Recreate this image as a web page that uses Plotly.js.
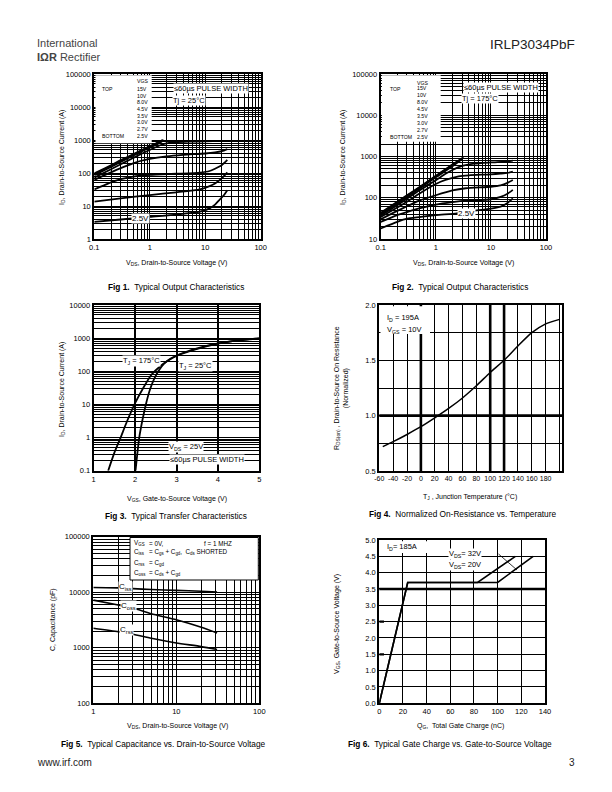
<!DOCTYPE html>
<html><head><meta charset="utf-8">
<script src="https://cdn.plot.ly/plotly-3.0.1.min.js"></script>
<style>html,body{margin:0;padding:0;background:#fff;}#page{width:612px;height:792px;}</style>
</head><body><div id="page"></div>
<script>
// ---------------- DATA ----------------
// Fig 1 : Typical output characteristics, Tj = 25 °C  (VDS in V, ID in A)
const vgsLabels = ['15V','10V','8.0V','4.5V','3.5V','3.0V','2.7V','2.5V'];
const f1_vds_15V = [0.1,0.2,0.3,0.5,0.7,1,1.3,1.7];
const f1_id_15V  = [98,172,245,370,490,650,800,1000];
const f1_vds_10V = [0.1,0.2,0.3,0.5,0.7,1,1.3,1.75];
const f1_id_10V  = [92,163,230,350,465,620,770,990];
const f1_vds_8V  = [0.1,0.2,0.3,0.5,0.7,1,1.4,1.8];
const f1_id_8V   = [86,153,218,335,445,595,760,980];
const f1_vds_45V = [0.1,0.2,0.3,0.5,0.7,1,1.5,2,3,5,10,20,25];
const f1_id_45V  = [72,130,185,285,380,500,680,790,860,890,910,930,940];
const f1_vds_35V = [0.1,0.15,0.2,0.3,0.5,0.7,1,2,4,10,15,20,25];
const f1_id_35V  = [62,85,105,140,195,235,270,320,355,390,420,460,530];
const f1_vds_30V = [0.1,0.15,0.2,0.3,0.5,1,3,8,12,15,20,25];
const f1_id_30V  = [32,42,52,65,78,88,95,103,115,135,175,250];
const f1_vds_27V = [0.1,0.3,1,3,8,12,15,20,25];
const f1_id_27V  = [13.5,17,21.5,26,32,40,48,70,105];
const f1_vds_25V = [0.1,0.3,1,3,8,12,15,18.5,22,25];
const f1_id_25V  = [3.3,3.9,4.7,5.5,6.7,8.5,11,16,22,30];

// Fig 2 : Typical output characteristics, Tj = 175 °C
const f2_vds_15V = [0.1,0.2,0.3,0.5,1,2,3.2];
const f2_id_15V  = [43,80,115,180,340,640,950];
const f2_vds_10V = [0.1,0.2,0.3,0.5,1,2,3.1];
const f2_id_10V  = [41,76,110,175,330,615,930];
const f2_vds_8V  = [0.1,0.2,0.3,0.5,1,2,3.0];
const f2_id_8V   = [39,72,104,165,312,580,870];
const f2_vds_45V = [0.1,0.2,0.3,0.5,1,1.5,2,3,5,10,20,25];
const f2_id_45V  = [37,66,95,150,265,380,470,590,670,720,760,790];
const f2_vds_35V = [0.1,0.2,0.3,0.5,1,1.5,2.6,4,10,15,20,25];
const f2_id_35V  = [34,58,80,125,215,270,330,350,370,385,400,430];
const f2_vds_30V = [0.1,0.2,0.3,0.5,1,2,3.5,10,15,20,25];
const f2_id_30V  = [30,48,62,85,115,150,170,185,200,230,270];
const f2_vds_27V = [0.1,0.2,0.3,0.5,1,2,3.5,10,15,20,25];
const f2_id_27V  = [26,38,45,55,68,78,85,92,105,125,155];
const f2_vds_25V = [0.1,0.2,0.3,0.5,1,2.4,3.5,8,15,20,25];
const f2_id_25V  = [18,26,31,34,38,42,46,52,61,75,97];

// Fig 3 : Transfer characteristics (VGS in V, ID in A)
const f3_vgs_175C = [1.35,1.5,1.65,1.8,2.0,2.2,2.4,2.6,2.8,3.0,3.5,4.0,4.5,5.0];
const f3_id_175C  = [0.1,0.35,1.0,3,11,32,80,140,210,290,470,680,850,980];
const f3_vgs_25C  = [2.01,2.1,2.18,2.26,2.35,2.45,2.56,2.7,2.85,3.0,3.5,4.0,4.5,5.0];
const f3_id_25C   = [0.1,1,3.5,10,26,55,100,170,240,300,490,690,860,990];

// Fig 4 : Normalized RDS(on) vs junction temperature
const f4_tj  = [-55,-40,-20,0,20,40,60,80,100,120,140,160,180,200];
const f4_rds = [0.72,0.765,0.83,0.90,0.98,1.065,1.16,1.27,1.39,1.50,1.63,1.75,1.83,1.87];
const f4_tickVals = [-60,-40,-20,0,20,40,60,80,100,120,140,160,180,200];
const f4_tickText = ['-60','-40','-20','0','20','40','60','80','100','120','140','160','180',''];

// Fig 5 : Capacitance vs VDS (pF)
const f5_vds  = [1,2,3,5,10,20,31];
const f5_ciss = [12200,12000,11600,11200,10800,10400,10100];
const f5_coss = [7200,5900,5200,4100,3200,2340,1850];
const f5_crss = [2250,1950,1750,1480,1220,1050,930];

// Fig 6 : Gate charge (nC) vs VGS (V)
const f6_qg_20V  = [0,24,83,115];
const f6_vgs_20V = [0,3.7,3.7,4.5];
const f6_qg_32V  = [0,24,100,130];
const f6_vgs_32V = [0,3.7,3.7,4.5];

// ---------------- HELPERS ----------------
const FONT = '"Liberation Sans", Arial, Helvetica, sans-serif';
const PX = p => p / 612, PY = p => 1 - p / 792;
const domX = (a, b) => [PX(a), PX(b)];
const domY = (top, bottom) => [PY(bottom), PY(top)];

function axis(o) {
  return Object.assign({
    showline: true, linecolor: '#000', linewidth: 2, mirror: true,
    ticks: '', showgrid: true, gridcolor: '#000', gridwidth: 1.4, zeroline: false,
    tickfont: {family: FONT, size: 7.5, color: '#000'}, tickangle: 0,
    fixedrange: true
  }, o);
}
const logMinor = () => ({dtick: 'D1', showgrid: true, gridcolor: '#000', gridwidth: 0.8, ticks: ''});
function logAxis(o) { return axis(Object.assign({type: 'log', dtick: 1, tickformat: '~g', minor: logMinor()}, o)); }

function line(x, y, xa, ya, w, shape) {
  return {x, y, xaxis: xa, yaxis: ya, type: 'scatter', mode: 'lines', hoverinfo: 'skip',
          line: {color: '#000', width: w || 1.8, shape: shape || 'spline', smoothing: 0.6}};
}

const annotations = [];
function ann(text, x, y, o) {
  annotations.push(Object.assign({
    text, x: PX(x), y: PY(y), xref: 'paper', yref: 'paper', showarrow: false,
    xanchor: 'center', yanchor: 'middle', font: {family: FONT, size: 7.5, color: '#000'}
  }, o || {}));
}
function small(size, extra) { return Object.assign({font: {family: FONT, size, color: '#000'}}, extra || {}); }

// ---------------- TRACES ----------------
const traces = [
  line(f1_vds_15V, f1_id_15V, 'x', 'y'), line(f1_vds_10V, f1_id_10V, 'x', 'y'),
  line(f1_vds_8V, f1_id_8V, 'x', 'y'), line(f1_vds_45V, f1_id_45V, 'x', 'y'),
  line(f1_vds_35V, f1_id_35V, 'x', 'y'), line(f1_vds_30V, f1_id_30V, 'x', 'y'),
  line(f1_vds_27V, f1_id_27V, 'x', 'y'), line(f1_vds_25V, f1_id_25V, 'x', 'y'),

  line(f2_vds_15V, f2_id_15V, 'x2', 'y2'), line(f2_vds_10V, f2_id_10V, 'x2', 'y2'),
  line(f2_vds_8V, f2_id_8V, 'x2', 'y2'), line(f2_vds_45V, f2_id_45V, 'x2', 'y2'),
  line(f2_vds_35V, f2_id_35V, 'x2', 'y2'), line(f2_vds_30V, f2_id_30V, 'x2', 'y2'),
  line(f2_vds_27V, f2_id_27V, 'x2', 'y2'), line(f2_vds_25V, f2_id_25V, 'x2', 'y2'),

  line(f3_vgs_175C, f3_id_175C, 'x3', 'y3'), line(f3_vgs_25C, f3_id_25C, 'x3', 'y3'),

  line(f4_tj, f4_rds, 'x4', 'y4', 1.5),

  line(f5_vds, f5_ciss, 'x5', 'y5', 1.6), line(f5_vds, f5_coss, 'x5', 'y5', 1.6),
  line(f5_vds, f5_crss, 'x5', 'y5', 1.6),

  line(f6_qg_20V, f6_vgs_20V, 'x6', 'y6', 1.6, 'linear'),
  line(f6_qg_32V, f6_vgs_32V, 'x6', 'y6', 1.6, 'linear')
];

// ---------------- TEXT ----------------
ann('International', 35, 43, {xanchor: 'left', font: {family: FONT, size: 11, color: '#444'}});
ann('<b>IΩR</b> Rectifier', 35, 57, {xanchor: 'left', font: {family: FONT, size: 11, color: '#444'}});
ann('IRLP3034PbF', 577, 45, {xanchor: 'right', font: {family: FONT, size: 13.5, color: '#222'}});
ann('www.irf.com', 35, 762, {xanchor: 'left', font: {family: FONT, size: 10, color: '#222'}});
ann('3', 577, 762, {xanchor: 'right', font: {family: FONT, size: 10, color: '#222'}});

// Fig 1
ann('V<sub>DS</sub>, Drain-to-Source Voltage (V)', 176, 263, small(7));
ann('I<sub>D</sub>, Drain-to-Source Current (A)', 62, 158, small(7, {textangle: -90}));
ann('<b>Fig 1.</b>  Typical Output Characteristics', 176, 287, small(8.3));
ann('VGS', 135, 81, small(5.2, {xanchor: 'left'}));
ann('TOP', 100, 89, small(5.2, {xanchor: 'left'}));
ann('BOTTOM', 100, 135.7, small(5.2, {xanchor: 'left'}));
vgsLabels.forEach((s, i) => ann(s, 135, 89 + i * 6.67, small(5.2, {xanchor: 'left'})));
ann('≤60µs PULSE WIDTH', 211, 89, {bgcolor: '#fff', borderpad: 0});
ann('Tj = 25°C', 189, 100, {bgcolor: '#fff', borderpad: 0});
ann('2.5V', 140, 218, {bgcolor: '#fff', borderpad: 0, font: {family: FONT, size: 8, color: '#000'}});

// Fig 2
ann('V<sub>DS</sub>, Drain-to-Source Voltage (V)', 463, 263, small(7));
ann('I<sub>D</sub>, Drain-to-Source Current (A)', 343, 158, small(7, {textangle: -90}));
ann('<b>Fig 2.</b>  Typical Output Characteristics', 460, 287, small(8.3));
ann('VGS', 415, 83, small(5.2, {xanchor: 'left'}));
ann('TOP', 388, 89, small(5.2, {xanchor: 'left'}));
ann('BOTTOM', 388, 136.7, small(5.2, {xanchor: 'left'}));
vgsLabels.forEach((s, i) => ann(s, 415, 88.5 + i * 6.9, small(5.2, {xanchor: 'left'})));
ann('≤60µs PULSE WIDTH', 501, 87.5, {bgcolor: '#fff', borderpad: 0});
ann('Tj = 175°C', 480, 98.5, {bgcolor: '#fff', borderpad: 0});
ann('2.5V', 466, 213, {bgcolor: '#fff', borderpad: 0, font: {family: FONT, size: 8, color: '#000'}});

// Fig 3
ann('V<sub>GS</sub>, Gate-to-Source Voltage (V)', 177, 499, small(7));
ann('I<sub>D</sub>, Drain-to-Source Current (A)', 62, 390, small(7, {textangle: -90}));
ann('<b>Fig 3.</b>  Typical Transfer Characteristics', 176, 515.5, small(8.3));
ann('T<sub>J</sub> = 175°C', 141, 361, {bgcolor: '#fff', borderpad: 0});
ann('T<sub>J</sub> = 25°C', 195.5, 365.5, {bgcolor: '#fff', borderpad: 0});
ann('V<sub>DS</sub> = 25V', 186, 447, {bgcolor: '#fff', borderpad: 0});
ann('≤60µs PULSE WIDTH', 206.7, 459.5, {bgcolor: '#fff', borderpad: 0});

// Fig 4
ann('T<sub>J</sub> , Junction Temperature (°C)', 470, 497, small(7));
ann('R<sub>DS(on)</sub> , Drain-to-Source On Resistance<br>(Normalized)', 342, 388, small(7, {textangle: -90}));
ann('<b>Fig 4.</b>  Normalized On-Resistance vs. Temperature', 462, 513.5, small(8.3));
ann('I<sub>D</sub> = 195A', 385, 318, {xanchor: 'left'});
ann('V<sub>GS</sub> = 10V', 385, 330, {xanchor: 'left'});

// Fig 5
ann('V<sub>DS</sub>, Drain-to-Source Voltage (V)', 177, 726, small(7));
ann('C, Capacitance (pF)', 53, 620, small(7, {textangle: -90}));
ann('<b>Fig 5.</b>  Typical Capacitance vs. Drain-to-Source Voltage', 163.5, 744, small(8.3));
ann('V<sub>GS</sub>', 132, 543.3, small(6.3, {xanchor: 'left'}));
ann('= 0V,', 146.5, 543.3, small(6.3, {xanchor: 'left'}));
ann('f = 1 MHZ', 201.5, 543.3, small(6.3, {xanchor: 'left'}));
ann('C<sub>iss</sub>', 132, 551.7, small(6.3, {xanchor: 'left'}));
ann('= C<sub>gs</sub> + C<sub>gd</sub>,  C<sub>ds</sub> SHORTED', 146.5, 551.7, small(6.3, {xanchor: 'left'}));
ann('C<sub>rss</sub>', 132, 563.3, small(6.3, {xanchor: 'left'}));
ann('= C<sub>gd</sub>', 146.5, 563.3, small(6.3, {xanchor: 'left'}));
ann('C<sub>oss</sub>', 132, 573.3, small(6.3, {xanchor: 'left'}));
ann('= C<sub>ds</sub> + C<sub>gd</sub>', 146.5, 573.3, small(6.3, {xanchor: 'left'}));
ann('C<sub>iss</sub>', 125.5, 586.5, {bgcolor: '#fff', borderpad: 0, font: {family: FONT, size: 8, color: '#000'}});
ann('C<sub>oss</sub>', 128, 606, {bgcolor: '#fff', borderpad: 0, font: {family: FONT, size: 8, color: '#000'}});
ann('C<sub>rss</sub>', 126, 630, {bgcolor: '#fff', borderpad: 0, font: {family: FONT, size: 8, color: '#000'}});

// Fig 6
ann('Q<sub>G</sub>,  Total Gate Charge (nC)', 460, 726, small(7));
ann('V<sub>GS</sub>, Gate-to-Source Voltage (V)', 337, 624, small(7, {textangle: -90}));
ann('<b>Fig 6.</b>  Typical Gate Charge vs. Gate-to-Source Voltage', 450, 744, small(8.3));
ann('I<sub>D</sub>= 185A', 385, 546.5, {xanchor: 'left'});
ann('V<sub>DS</sub>= 32V', 448, 554, {xanchor: 'left', bgcolor: '#fff', borderpad: 0});
ann('V<sub>DS</sub>= 20V', 448, 564.5, {xanchor: 'left', bgcolor: '#fff', borderpad: 0});

// ---------------- SHAPES ----------------
function whiteBox(x0, y0, x1, y1, border) {
  return {type: 'rect', xref: 'paper', yref: 'paper', layer: 'above',
          x0: PX(x0), x1: PX(x1), y0: PY(y1), y1: PY(y0),
          fillcolor: '#fff', line: {width: border ? 1 : 0, color: '#000'}};
}
function heavy(xref, yref, x0, x1, y0, y1, w) {
  return {type: 'line', xref, yref, x0, x1, y0, y1, layer: 'below', line: {color: '#000', width: w || 2.6}};
}
const shapes = [
  heavy('x4', 'paper', 0, 0, PY(471), PY(305)),
  heavy('x4', 'paper', 100, 100, PY(471), PY(305)),
  heavy('x4', 'paper', 120, 120, PY(471), PY(305)),
  heavy('paper', 'y4', PX(379.3), PX(562.3), 1, 1),
  heavy('paper', 'y6', PX(379.3), PX(545), 3.5, 3.5),
  heavy('x6', 'y6', 0, 4, 2.5, 2.5, 2.2),
  heavy('x6', 'y6', 0, 4, 1.5, 1.5, 2.2),
  whiteBox(95.5, 75.3, 151.7, 143.3),
  whiteBox(381.9, 75.3, 440.7, 141.7),
  whiteBox(380.5, 306.3, 430, 334),
  whiteBox(380.5, 541.3, 427, 553),
  whiteBox(130, 537.5, 258.3, 580, true),
  {type: 'line', xref: 'paper', yref: 'paper', x0: PX(498.5), x1: PX(517), y0: PY(554), y1: PY(570), layer: 'above', line: {color: '#000', width: 0.8}}
];

// ---------------- LAYOUT ----------------
const layout = {
  width: 612, height: 792, margin: {l: 0, r: 0, t: 0, b: 0, pad: 0},
  paper_bgcolor: '#fff', plot_bgcolor: 'rgba(0,0,0,0)', showlegend: false,
  font: {family: FONT, color: '#000'},
  xaxis:  logAxis({domain: domX(94.3, 260.7), anchor: 'y', range: [-1, 2]}),
  yaxis:  logAxis({domain: domY(74, 239), anchor: 'x', range: [0, 5]}),
  xaxis2: logAxis({domain: domX(380.7, 546), anchor: 'y2', range: [-1, 2]}),
  yaxis2: logAxis({domain: domY(74, 239), anchor: 'x2', range: [1, 5]}),
  xaxis3: axis({domain: domX(93.7, 259.3), anchor: 'y3', range: [1, 5], dtick: 1, gridwidth: 2}),
  yaxis3: logAxis({domain: domY(305, 470.7), anchor: 'x3', range: [-1, 4]}),
  xaxis4: axis({domain: domX(379.3, 562.3), anchor: 'y4', range: [-60, 204], tickmode: 'array',
                tickvals: f4_tickVals, ticktext: f4_tickText, gridwidth: 1.2,
                tickfont: {family: FONT, size: 7, color: '#000'}}),
  yaxis4: axis({domain: domY(305, 471), anchor: 'x4', range: [0.5, 2.0], dtick: 0.5, tickformat: '.1f', gridwidth: 1.2,
                minor: {dtick: 0.25, showgrid: true, gridcolor: '#000', gridwidth: 1.2, ticks: ''}}),
  xaxis5: logAxis({domain: domX(93.3, 259.3), anchor: 'y5', range: [0, 2]}),
  yaxis5: logAxis({domain: domY(536.7, 703.3), anchor: 'x5', range: [2, 5]}),
  xaxis6: axis({domain: domX(379.3, 545), anchor: 'y6', range: [0, 140], dtick: 20, gridwidth: 1.2}),
  yaxis6: axis({domain: domY(540, 703.3), anchor: 'x6', range: [0, 5], dtick: 0.5, tickformat: '.1f', gridwidth: 1.2}),
  annotations, shapes
};

Plotly.newPlot('page', traces, layout, {displayModeBar: false});
</script>
</body></html>
